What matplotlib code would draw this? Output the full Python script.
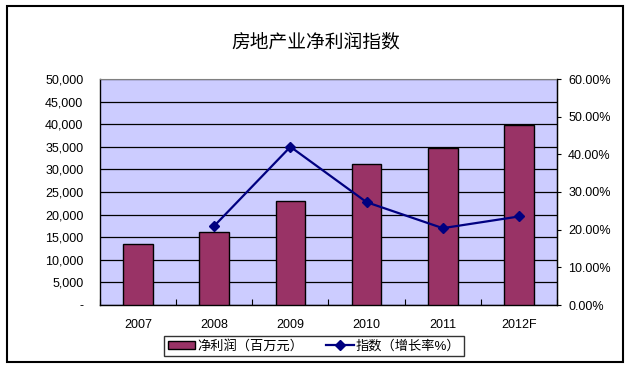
import matplotlib
matplotlib.use("Agg")
import matplotlib.pyplot as plt
import numpy as np
from matplotlib.patches import Rectangle
from matplotlib.ticker import FixedLocator, FuncFormatter

plt.rcParams["font.family"] = ["Liberation Sans", "Noto Sans CJK SC", "DejaVu Sans"]

# chart data
years = ["2007", "2008", "2009", "2010", "2011", "2012F"]
net_profit = [13400, 16100, 23000, 31100, 34700, 39800]   # 百万元
growth_pct = [np.nan, 21.0, 42.0, 27.3, 20.4, 23.5]        # %

title = "房地产业净利润指数"
bar_label = "净利润（百万元）"
line_label = "指数（增长率%）"

fig = plt.figure(figsize=(6.27, 3.67), dpi=100)
fig.patch.set_facecolor("white")

# outer chart frame
fig.patches.append(Rectangle((7 / 627, 1 - 362 / 367), 616 / 627, 356 / 367,
                             transform=fig.transFigure, fill=False,
                             edgecolor="black", linewidth=1.5))

ax = fig.add_axes([100 / 627, 1 - 305 / 367, 457 / 627, 226 / 367])
ax.set_facecolor("#CCCCFF")

x = np.arange(len(years))
bars = ax.bar(x, net_profit, width=0.39, color="#993366", edgecolor="black",
              linewidth=1.0, zorder=3, label=bar_label)

ax.set_xlim(-0.5, len(years) - 0.5)
ax.set_ylim(0, 50000)
ax.yaxis.set_major_locator(FixedLocator(np.arange(0, 50001, 5000)))
ax.yaxis.set_major_formatter(FuncFormatter(lambda v, p: "-" if v == 0 else f"{v:,.0f}"))
ax.grid(axis="y", color="black", linewidth=0.9, zorder=1)
ax.set_axisbelow(True)
ax.tick_params(axis="y", length=0, pad=12, labelsize=9)

ax.set_xticks(x)
ax.set_xticklabels(years)
ax.set_xticks(np.arange(-0.5, len(years)), minor=True)
ax.tick_params(axis="x", which="major", length=0, pad=10, labelsize=9)
ax.tick_params(axis="x", which="minor", direction="in", length=4, width=0.8)

ax.spines["top"].set_color("#808080")
for side in ["left", "bottom", "right"]:
    ax.spines[side].set_color("black")
    ax.spines[side].set_linewidth(1.0)

ax2 = ax.twinx()
line, = ax2.plot(x, growth_pct, color="#000080", linewidth=1.6, marker="D",
                 markersize=5, zorder=4, label=line_label)
ax2.set_ylim(0, 60)
ax2.yaxis.set_major_locator(FixedLocator(np.arange(0, 61, 10)))
ax2.yaxis.set_major_formatter(FuncFormatter(lambda v, p: f"{v:.2f}%"))
ax2.tick_params(axis="y", length=3, width=0.8, pad=5, labelsize=9)
for side in ["top", "left", "bottom"]:
    ax2.spines[side].set_visible(False)
ax2.spines["right"].set_color("black")

fig.text(316 / 627, 1 - 43 / 367, title, ha="center", va="center", fontsize=13.5)

leg = fig.legend([bars, line], [bar_label, line_label], loc="center",
                 bbox_to_anchor=(314 / 627, 1 - 346 / 367), ncol=2, fontsize=9.5,
                 frameon=True, fancybox=False, edgecolor="black", borderpad=0.3,
                 borderaxespad=0, handlelength=2.1, handleheight=0.6,
                 handletextpad=0.15, columnspacing=1.7)
leg.get_frame().set_linewidth(1.0)

fig.savefig("out.png", dpi=100)
